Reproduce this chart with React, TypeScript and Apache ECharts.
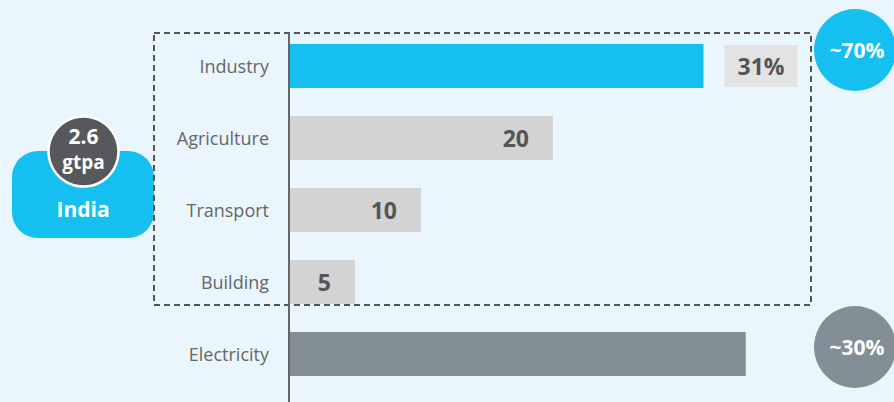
import React, { useEffect, useRef } from "react";
import * as echarts from "echarts";

const categories = ["Industry", "Agriculture", "Transport", "Building", "Electricity"];
const values = [31.4, 20, 10, 5, 34.6];
const barColors = ["#15c0f1", "#d3d3d3", "#d3d3d3", "#d3d3d3", "#838f97"];
const labelTexts = ["31%", "20", "10", "5", ""];
const countryName = "India";
const totalTop = "2.6";
const totalUnit = "gtpa";
const shareTop = "~70%";
const shareBottom = "~30%";

export default function App() {
  const ref = useRef<HTMLDivElement>(null);
  useEffect(() => {
    const chart = echarts.init(ref.current!, null, { renderer: "svg" });
    const font = "'Open Sans', sans-serif";
    const data = values.map((v, i) => {
      const item: any = { value: v, itemStyle: { color: barColors[i] } };
      if (i === 0) {
        item.label = {
          show: true,
          position: "right",
          distance: 21,
          formatter: labelTexts[i],
          color: "#555",
          fontSize: 23,
          fontWeight: "bold",
          fontFamily: font,
          backgroundColor: "#e3e3e3",
          padding: [10, 13, 9, 13],
        };
      } else if (labelTexts[i]) {
        item.label = {
          show: true,
          position: "insideRight",
          distance: 24,
          formatter: labelTexts[i],
          color: "#555",
          fontSize: 23,
          fontWeight: "bold",
          fontFamily: font,
        };
      } else {
        item.label = { show: false };
      }
      return item;
    });
    chart.setOption({
      animation: false,
      backgroundColor: "#eaf6fd",
      grid: { left: 289, right: 77, top: 30, height: 360 },
      xAxis: { type: "value", min: 0, max: 40, show: false },
      yAxis: {
        type: "category",
        data: categories,
        inverse: true,
        axisLine: { show: false },
        axisTick: { show: false },
        axisLabel: { color: "#666", fontSize: 18, fontFamily: font, margin: 20 },
      },
      series: [
        {
          type: "bar",
          data,
          barWidth: 44,
        },
      ],
      graphic: [
        {
          type: "line",
          shape: { x1: 289, y1: 33, x2: 289, y2: 402 },
          style: { stroke: "#666", lineWidth: 2 },
          z: 10,
        },
        {
          type: "rect",
          shape: { x: 12, y: 151, width: 142, height: 87, r: 26 },
          style: { fill: "#15c0f1" },
        },
        {
          type: "text",
          x: 83,
          y: 209,
          style: {
            text: countryName,
            fill: "#fff",
            font: `bold 21px ${font}`,
            align: "center",
            verticalAlign: "middle",
          },
        },
        {
          type: "circle",
          shape: { cx: 83.5, cy: 151.5, r: 35 },
          style: { fill: "#56585b", stroke: "#fff", lineWidth: 2.5 },
        },
        {
          type: "text",
          x: 83.5,
          y: 136,
          style: {
            text: totalTop,
            fill: "#fff",
            font: `bold 21px ${font}`,
            align: "center",
            verticalAlign: "middle",
          },
        },
        {
          type: "text",
          x: 83.5,
          y: 162,
          style: {
            text: totalUnit,
            fill: "#fff",
            font: `bold 19px ${font}`,
            align: "center",
            verticalAlign: "middle",
          },
        },
        {
          type: "rect",
          shape: { x: 154, y: 33, width: 657, height: 272 },
          style: { fill: "none", stroke: "#555", lineWidth: 2, lineDash: [6, 4] },
          z: 5,
        },
        {
          type: "circle",
          shape: { cx: 855, cy: 50, r: 41 },
          style: { fill: "#15c0f1" },
        },
        {
          type: "text",
          x: 857,
          y: 50,
          style: {
            text: shareTop,
            fill: "#fff",
            font: `bold 21px ${font}`,
            align: "center",
            verticalAlign: "middle",
          },
        },
        {
          type: "circle",
          shape: { cx: 855, cy: 347, r: 41 },
          style: { fill: "#838f97" },
        },
        {
          type: "text",
          x: 857,
          y: 347,
          style: {
            text: shareBottom,
            fill: "#fff",
            font: `bold 21px ${font}`,
            align: "center",
            verticalAlign: "middle",
          },
        },
      ],
    });
    return () => chart.dispose();
  }, []);
  return <div ref={ref} style={{ width: 894, height: 402, position: "fixed", left: 0, top: 0 }} />;
}
